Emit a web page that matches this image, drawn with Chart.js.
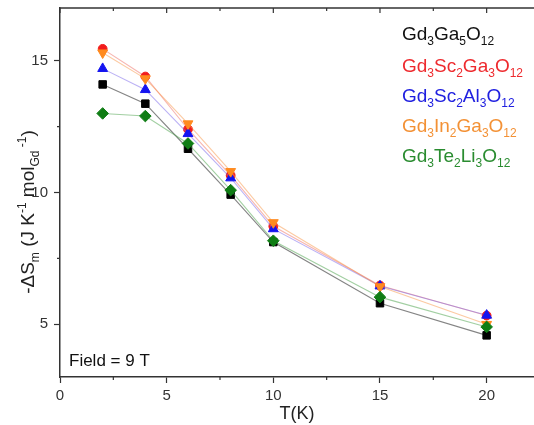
<!DOCTYPE html>
<html>
<head>
<meta charset="utf-8">
<script src="https://cdn.jsdelivr.net/npm/chart.js@4.4.1/dist/chart.umd.min.js"></script>
<style>
  html, body { margin: 0; padding: 0; background: #fff; overflow: hidden; }
  #wrap { width: 534px; height: 425px; position: relative; }
</style>
</head>
<body>
<div id="wrap"><canvas id="c" width="534" height="425"></canvas></div>
<script>
// ---- data ----
const temps = [2, 4, 6, 8, 10, 15, 20];
const gd3ga5o12   = [14.1, 13.37, 11.66, 9.92, 8.12, 5.8, 4.58];
const gd3sc2ga3o12 = [15.45, 14.4, 12.4, 10.65, 8.72, 6.47, 5.33];
const gd3sc2al3o12 = [14.7, 13.9, 12.23, 10.55, 8.62, 6.45, 5.34];
const gd3in2ga3o12 = [15.3, 14.32, 12.61, 10.8, 8.86, 6.43, 5.0];
const gd3te2li3o12 = [13.0, 12.9, 11.86, 10.09, 8.17, 6.03, 4.9];
const xTicks = [0, 5, 10, 15, 20];
const yTicks = [5, 10, 15];
const xMinorTicks = [2.5, 7.5, 12.5, 17.5];
const yMinorTicks = [7.5, 12.5];
// legend labels as [text, 'n' normal | 's' subscript]
const legendLabels = [
  [['Gd','n'],['3','s'],['Ga','n'],['5','s'],['O','n'],['12','s']],
  [['Gd','n'],['3','s'],['Sc','n'],['2','s'],['Ga','n'],['3','s'],['O','n'],['12','s']],
  [['Gd','n'],['3','s'],['Sc','n'],['2','s'],['Al','n'],['3','s'],['O','n'],['12','s']],
  [['Gd','n'],['3','s'],['In','n'],['2','s'],['Ga','n'],['3','s'],['O','n'],['12','s']],
  [['Gd','n'],['3','s'],['Te','n'],['2','s'],['Li','n'],['3','s'],['O','n'],['12','s']]
];
const yTitle = [['-\u0394S','n'],['m','s'],[' (J K','n'],['-1','p'],[' mol','n'],['Gd','s'],[' -1','p'],[')','n']];
const xTitle = 'T(K)';
const annotation = 'Field = 9 T';

// ---- styling ----
const FONT = '"Liberation Sans", Arial, sans-serif';
const markerColors = ['#000000', '#f21c1c', '#1414f0', '#ff8a1e', '#0f7d14'];
const lineColors   = ['rgba(80,80,80,0.7)', 'rgba(240,110,100,0.5)', 'rgba(120,100,235,0.5)', 'rgba(250,150,70,0.5)', 'rgba(70,160,70,0.5)'];
const legendColors = ['#111111', '#ee2a2e', '#2020e0', '#f39135', '#2a8c30'];
const seriesValues = [gd3ga5o12, gd3sc2ga3o12, gd3sc2al3o12, gd3in2ga3o12, gd3te2li3o12];
const styles = [
  {pointStyle: 'rect', r: 5.3, rot: 0},
  {pointStyle: 'circle', r: 4.4, rot: 0},
  {pointStyle: 'triangle', r: 5.7, rot: 0},
  {pointStyle: 'triangle', r: 5.7, rot: 180},
  {pointStyle: 'rectRot', r: 5.8, rot: 0}
];

const datasets = seriesValues.map((vals, i) => ({
  label: 'series' + i,
  data: temps.map((t, k) => ({x: t, y: vals[k]})),
  borderColor: lineColors[i],
  borderWidth: 1.1,
  backgroundColor: markerColors[i],
  pointBackgroundColor: markerColors[i],
  pointBorderColor: markerColors[i],
  pointBorderWidth: 1,
  pointStyle: styles[i].pointStyle,
  pointRadius: styles[i].r,
  pointRotation: styles[i].rot,
  order: 5 - i,
  tension: 0
}));

function drawRich(ctx, segs, x, y, size, subSize, color) {
  ctx.fillStyle = color;
  ctx.textBaseline = 'alphabetic';
  ctx.textAlign = 'left';
  let cx = x;
  for (const [t, k] of segs) {
    if (k === 'n') {
      ctx.font = size + 'px ' + FONT;
      ctx.fillText(t, cx, y);
    } else if (k === 's') {
      ctx.font = subSize + 'px ' + FONT;
      ctx.fillText(t, cx, y + 5);
    } else {
      ctx.font = subSize + 'px ' + FONT;
      ctx.fillText(t, cx, y - 8);
    }
    cx += ctx.measureText(t).width;
  }
  return cx - x;
}
function richWidth(ctx, segs, size, subSize) {
  let w = 0;
  for (const [t, k] of segs) {
    ctx.font = (k === 'n' ? size : subSize) + 'px ' + FONT;
    w += ctx.measureText(t).width;
  }
  return w;
}

const decorPlugin = {
  id: 'decor',
  afterDraw(chart) {
    const ctx = chart.ctx;
    const xs = chart.scales.x, ys = chart.scales.y;
    const ca = chart.chartArea;
    ctx.save();
    ctx.strokeStyle = '#333';
    ctx.lineWidth = 1.5;
    // top frame line
    ctx.beginPath();
    ctx.moveTo(ca.left, ca.top);
    ctx.lineTo(ca.right, ca.top);
    ctx.stroke();
    ctx.lineWidth = 1.2;
    // top ticks (inward), major and minor
    ctx.beginPath();
    for (const v of xTicks) { const px = xs.getPixelForValue(v); ctx.moveTo(px, ca.top); ctx.lineTo(px, ca.top + 5); }
    for (const v of xMinorTicks) { const px = xs.getPixelForValue(v); ctx.moveTo(px, ca.top); ctx.lineTo(px, ca.top + 3); }
    // bottom minor ticks (outward)
    for (const v of xMinorTicks) { const px = xs.getPixelForValue(v); ctx.moveTo(px, ca.bottom); ctx.lineTo(px, ca.bottom + 3); }
    // left minor ticks
    for (const v of yMinorTicks) { const py = ys.getPixelForValue(v); ctx.moveTo(ca.left, py); ctx.lineTo(ca.left - 3, py); }
    ctx.stroke();

    // legend text
    const baselines = [40, 71.5, 102, 132, 162];
    legendLabels.forEach((segs, i) => drawRich(ctx, segs, 402, baselines[i], 19, 12, legendColors[i]));

    // annotation
    ctx.font = '17px ' + FONT;
    ctx.fillStyle = '#111';
    ctx.textBaseline = 'alphabetic';
    ctx.fillText(annotation, 69, 366);

    // y title, rotated
    const w = richWidth(ctx, yTitle, 19, 12);
    ctx.translate(34, 212);
    ctx.rotate(-Math.PI / 2);
    drawRich(ctx, yTitle, -w / 2, 0, 19, 12, '#222');
    ctx.restore();
  }
};

new Chart(document.getElementById('c'), {
  type: 'line',
  data: { datasets },
  plugins: [decorPlugin],
  options: {
    responsive: false,
    animation: false,
    layout: { autoPadding: false, padding: { top: 8, right: 0, left: 0, bottom: 0 } },
    plugins: { legend: { display: false }, tooltip: { enabled: false } },
    scales: {
      x: {
        type: 'linear',
        min: 0, max: 22.22,
        afterBuildTicks: s => { s.ticks = xTicks.map(v => ({value: v})); },
        afterFit: s => { s.height = 48; s.paddingLeft = 0; s.paddingRight = 0; },
        ticks: { font: { size: 15, family: FONT }, color: '#333', padding: 4, maxRotation: 0 },
        grid: { drawOnChartArea: false, drawTicks: true, tickLength: 6, color: '#333', tickWidth: 1.2 },
        border: { display: true, color: '#333', width: 1.5 },
        title: { display: true, text: xTitle, font: { size: 18, family: FONT }, color: '#222', padding: { top: 0, bottom: 0 } }
      },
      y: {
        type: 'linear',
        min: 3, max: 17,
        afterBuildTicks: s => { s.ticks = yTicks.map(v => ({value: v})); },
        afterFit: s => { s.width = 60; s.paddingTop = 0; s.paddingBottom = 0; },
        ticks: { font: { size: 15, family: FONT }, color: '#333', padding: 6 },
        grid: { drawOnChartArea: false, drawTicks: true, tickLength: 6, color: '#333', tickWidth: 1.2 },
        border: { display: true, color: '#333', width: 1.5 }
      }
    }
  }
});
</script>
</body>
</html>
